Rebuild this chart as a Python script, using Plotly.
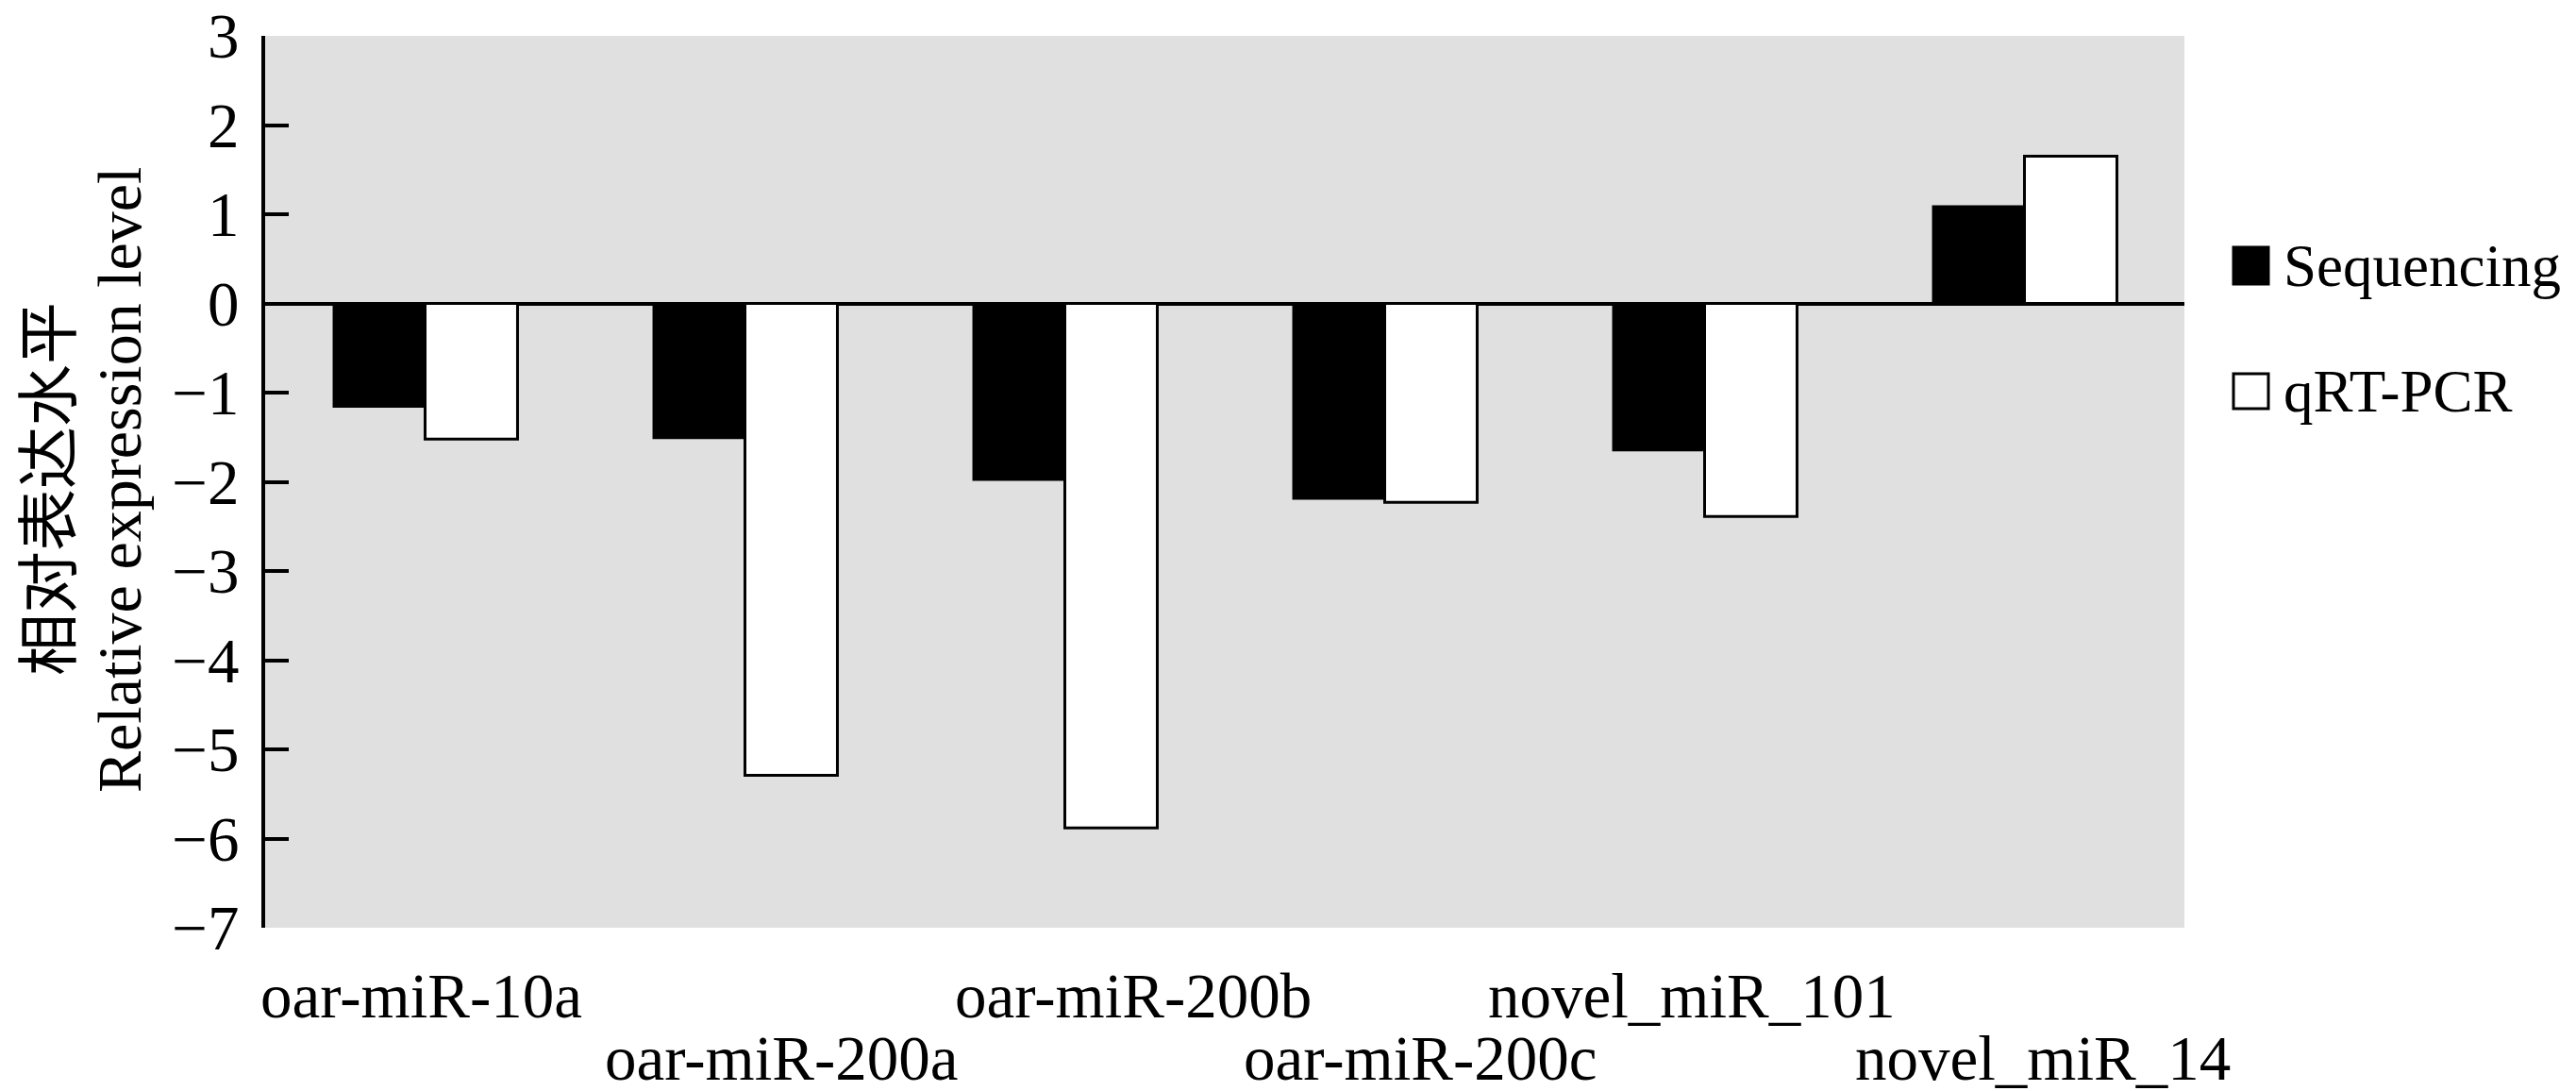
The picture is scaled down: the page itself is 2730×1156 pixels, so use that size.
import plotly.graph_objects as go

# miRNAs and relative expression (log2 fold change)
mirnas = ["oar-miR-10a", "oar-miR-200a", "oar-miR-200b",
          "oar-miR-200c", "novel_miR_101", "novel_miR_14"]
sequencing = [-1.17, -1.52, -1.99, -2.20, -1.66, 1.10]
qrt_pcr = [-1.52, -5.29, -5.88, -2.23, -2.39, 1.65]
y_ticks = [3, 2, 1, 0, -1, -2, -3, -4, -5, -6, -7]
series_names = ["Sequencing", "qRT-PCR"]
y_title = ["相对表达水平", "Relative expression level"]

FONT = "Liberation Serif, Times New Roman, Noto Sans CJK SC, serif"
W, H = 2730, 1156
ML, MR, MT, MB = 273, 423, 30, 181

# label offsets (px) for the staggered category names
label_dx = [-4, 39, 72, 38, -14, 19]
label_dy = [-72, -138, -72, -138, -72, -138]


def px_x(px):
    return (px - ML) / (W - ML - MR)


def px_y(py):
    return (H - MB - py) / (H - MT - MB)


fig = go.Figure()
fig.add_bar(x=mirnas, y=sequencing, name=series_names[0],
            marker_color="black", marker_line_color="black", marker_line_width=0)
fig.add_bar(x=mirnas, y=qrt_pcr, name=series_names[1],
            marker_color="white", marker_line_color="black", marker_line_width=3)

for i, m in enumerate(mirnas):
    fig.add_annotation(x=m, xref="x", y=0, yref="paper", text=m,
                       showarrow=False, xanchor="center", yanchor="middle",
                       xshift=label_dx[i], yshift=label_dy[i],
                       font=dict(family=FONT, size=67, color="black"))

# two-line y title (Chinese over English), rotated
for text, cx, cy in zip(y_title, [44, 118], [510, 501]):
    fig.add_annotation(x=px_x(cx), y=px_y(cy), xref="paper", yref="paper",
                       text=text, textangle=-90, showarrow=False,
                       xanchor="center", yanchor="middle",
                       font=dict(family=FONT, size=66, color="black"))

# hand-drawn legend with large square keys
keys = [("black", 254, 293), ("white", 388, 425)]
for (fill, top, bot), name in zip(keys, series_names):
    fig.add_shape(type="rect", xref="paper", yref="paper",
                  x0=px_x(2359), x1=px_x(2396), y0=px_y(bot), y1=px_y(top),
                  fillcolor=fill, line=dict(color="black", width=3))
    fig.add_annotation(x=px_x(2410), y=px_y((top + bot) / 2), xref="paper", yref="paper",
                       text=name, showarrow=False, xanchor="left", yanchor="middle",
                       font=dict(family=FONT, size=63, color="black"))

fig.update_layout(
    width=W, height=H,
    margin=dict(l=ML, r=MR, t=MT, b=MB, autoexpand=False),
    paper_bgcolor="white", plot_bgcolor="#e0e0e0",
    barmode="group", bargap=0.422, bargroupgap=0,
    showlegend=False,
    font=dict(family=FONT, size=67, color="black"),
    xaxis=dict(type="category", range=[-0.5, 5.5], showticklabels=False,
               showline=False, ticks="", showgrid=False, zeroline=False),
    yaxis=dict(range=[-7, 3], tickvals=y_ticks, ticks="inside", ticklen=25,
               tickwidth=3.5, tickcolor="black", showline=True, linecolor="black",
               linewidth=4, showgrid=False, zeroline=True, zerolinecolor="black",
               zerolinewidth=4, ticklabelstandoff=10, ticklabeloverflow="allow",
               tickfont=dict(family=FONT, size=67)),
)

fig.write_html("out.html")
